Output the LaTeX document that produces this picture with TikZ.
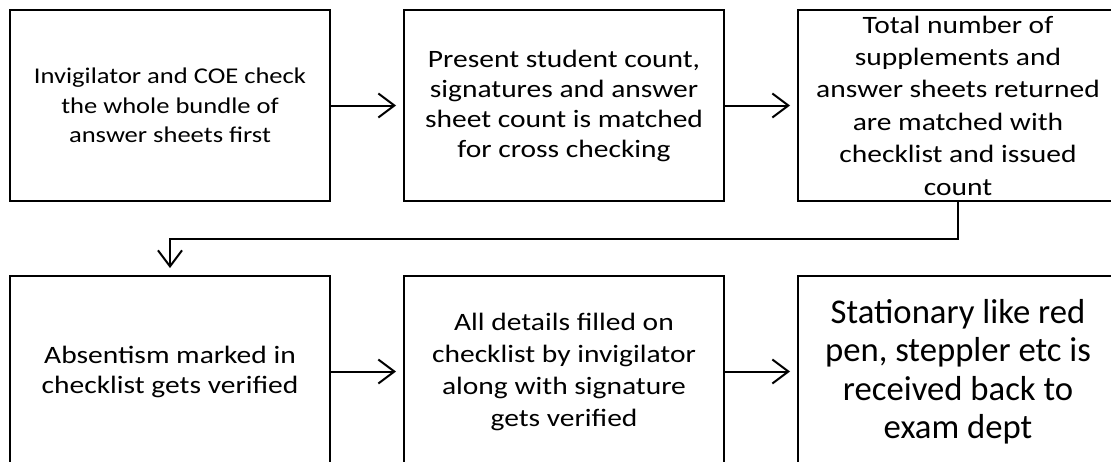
\documentclass[tikz,border=0pt]{standalone}
\usepackage{fontspec}
\setmainfont{Carlito}
\newfontfamily\widefont[FakeStretch=1.18]{Carlito}
\usetikzlibrary{positioning,arrows.meta}

\begin{document}
\begin{tikzpicture}[
    x=1pt, y=1pt,
    node distance=73pt and 72pt,
    procbox/.style={draw, rectangle, line width=2pt, minimum height=191pt, minimum width=320pt, align=center, inner sep=2pt, font=\widefont\fontsize{25}{30}\selectfont},
    arrow/.style={line width=2pt, -{Straight Barb[length=16pt,width=24pt]}, shorten >=7pt}
]
  \useasboundingbox (0,0) rectangle (1111,-461);

  % Nodes
  \node (s1) [procbox, font=\widefont\fontsize{22.5}{29.5}\selectfont] at (170,-105.5) {Invigilator and COE check\\ the whole bundle of\\ answer sheets first};

  \node (s2) [procbox, right=of s1] {Present student count,\\ signatures and answer\\ sheet count is matched\\ for cross checking};

  \node (s3) [procbox, right=of s2, font=\widefont\fontsize{25}{32.4}\selectfont] {Total number of\\ supplements and\\ answer sheets returned\\ are matched with\\ checklist and issued\\ count};

  \node (s4) [procbox, below=of s1] {Absentism marked in\\ checklist gets verified};

  \node (s5) [procbox, right=of s4, font=\widefont\fontsize{25}{32}\selectfont] {All details filled on\\ checklist by invigilator\\ along with signature\\ gets verified};

  \node (s6) [procbox, right=of s5, font=\fontsize{34.7}{38.5}\selectfont] {Stationary like red\\ pen, steppler etc is\\ received back to\\ exam dept};

  % Arrows
  \draw [arrow] (s1) -- (s2);
  \draw [arrow] (s2) -- (s3);
  \draw [arrow] (s3.south) -- ++(0,-36.5) -| (s4.north);
  \draw [arrow] (s4) -- (s5);
  \draw [arrow] (s5) -- (s6);
\end{tikzpicture}
\end{document}
